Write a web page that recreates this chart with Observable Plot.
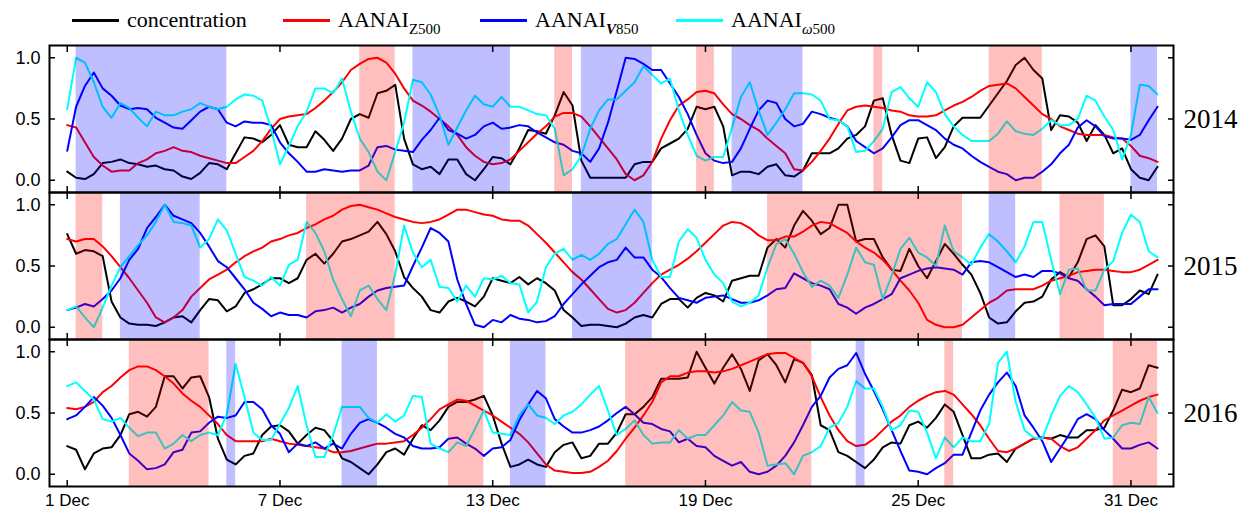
<!DOCTYPE html>
<html><head><meta charset="utf-8">
<script src="https://cdn.jsdelivr.net/npm/d3@7"></script>
<script src="https://cdn.jsdelivr.net/npm/@observablehq/plot@0.6"></script>
<style>
html,body{margin:0;padding:0;background:#fff;overflow:hidden;}
#legend{position:relative;height:40px;width:1245px;font-family:"Liberation Serif",serif;font-size:22px;color:#000;}
.item{position:absolute;top:7px;display:flex;align-items:center;white-space:nowrap;line-height:26px;}
.sw{display:inline-block;width:47px;height:3px;margin-right:8px;}
sub{font-size:15px;vertical-align:-7px;line-height:0;}
</style></head><body>
<div id="legend"></div>
<div id="chart"></div>
<script>
// ---- data (6-hourly, starting 1 Dec 00:00) ----
const years = ["2014", "2015", "2016"];
const STEP = 0.25; // days per sample
const tickDays = [0, 6, 12, 18, 24, 30];
const tickLabels = ["1 Dec", "7 Dec", "13 Dec", "19 Dec", "25 Dec", "31 Dec"];
const yTicks = [0, 0.5, 1];

const legendLabels = ["concentration", "AANAI<sub>Z500</sub>", "AANAI<sub><i><b>V</b></i>850</sub>", "AANAI<sub><i>ω</i>500</sub>"];
const seriesColors = ["#000000", "#ff0000", "#0000ff", "#00ffff"];
const legendLeft = [72, 283, 480, 676];

const conc2014 = [0.07,0.02,0.01,0.05,0.14,0.15,0.17,0.14,0.13,0.11,0.12,0.09,0.08,0.03,0.01,0.06,0.14,0.13,0.09,0.22,0.35,0.34,0.31,0.37,0.45,0.29,0.27,0.27,0.40,0.33,0.24,0.34,0.50,0.54,0.51,0.71,0.73,0.78,0.34,0.13,0.09,0.11,
0.05,0.17,0.17,0.05,0.00,0.09,0.19,0.18,0.13,0.26,0.41,0.40,0.38,0.53,0.72,0.61,0.16,0.02,0.02,0.02,0.02,0.02,0.13,0.15,0.15,0.26,0.30,0.34,0.42,0.60,0.58,0.60,0.44,0.04,0.07,0.07,0.05,0.11,0.13,0.04,0.03,0.08,0.22,
0.22,0.22,0.26,0.34,0.37,0.44,0.65,0.67,0.37,0.16,0.14,0.34,0.35,0.18,0.27,0.44,0.51,0.51,0.51,0.61,0.71,0.81,0.94,1.0,0.90,0.83,0.41,0.53,0.52,0.47,0.32,0.45,0.37,0.22,0.26,0.09,0.02,0.00,0.11];
const z2014 = [0.45,0.43,0.31,0.19,0.12,0.07,0.08,0.08,0.14,0.17,0.22,0.24,0.27,0.24,0.23,0.20,0.18,0.16,0.14,0.14,0.19,0.24,0.32,0.42,0.50,0.52,0.53,0.54,0.59,0.65,0.72,0.80,0.90,0.95,0.99,1.0,0.96,0.87,0.75,0.65,0.61,0.56,
0.50,0.44,0.37,0.27,0.20,0.15,0.13,0.14,0.17,0.24,0.31,0.38,0.44,0.52,0.55,0.55,0.52,0.44,0.35,0.26,0.17,0.05,0.00,0.04,0.15,0.34,0.49,0.61,0.66,0.72,0.73,0.71,0.62,0.54,0.50,0.45,0.41,0.34,0.28,0.22,0.09,0.08,0.15,
0.24,0.34,0.46,0.57,0.60,0.61,0.60,0.59,0.57,0.56,0.53,0.52,0.52,0.53,0.57,0.61,0.64,0.68,0.73,0.77,0.78,0.79,0.75,0.68,0.61,0.54,0.50,0.44,0.41,0.38,0.37,0.37,0.37,0.35,0.34,0.28,0.20,0.18,0.15];
const v2014 = [0.24,0.60,0.77,0.88,0.75,0.69,0.61,0.58,0.59,0.58,0.51,0.47,0.43,0.42,0.49,0.56,0.60,0.58,0.47,0.44,0.48,0.47,0.47,0.45,0.31,0.22,0.15,0.07,0.07,0.09,0.08,0.07,0.08,0.08,0.12,0.27,0.28,0.25,0.24,0.23,0.33,0.41,
0.51,0.41,0.38,0.34,0.37,0.44,0.47,0.42,0.43,0.45,0.44,0.39,0.35,0.31,0.29,0.24,0.22,0.15,0.26,0.47,0.73,1.0,0.99,0.95,0.90,0.90,0.79,0.68,0.54,0.37,0.22,0.16,0.14,0.15,0.26,0.42,0.57,0.65,0.63,0.50,0.44,0.46,0.56,
0.54,0.51,0.49,0.44,0.32,0.27,0.22,0.26,0.35,0.45,0.49,0.49,0.45,0.41,0.34,0.29,0.26,0.20,0.15,0.11,0.07,0.05,0.00,0.02,0.02,0.07,0.13,0.22,0.29,0.43,0.49,0.44,0.36,0.34,0.34,0.33,0.37,0.49,0.60];
const w2014 = [0.58,1.0,0.96,0.80,0.60,0.51,0.63,0.59,0.51,0.44,0.56,0.53,0.53,0.56,0.58,0.63,0.60,0.58,0.60,0.66,0.70,0.69,0.65,0.42,0.13,0.28,0.44,0.56,0.75,0.75,0.71,0.83,0.56,0.34,0.23,0.07,0.00,0.23,0.47,0.82,0.80,0.70,
0.53,0.29,0.43,0.57,0.69,0.62,0.60,0.68,0.60,0.60,0.57,0.54,0.53,0.42,0.04,0.09,0.20,0.42,0.57,0.66,0.66,0.73,0.80,0.93,0.86,0.79,0.83,0.57,0.37,0.20,0.16,0.19,0.19,0.43,0.68,0.80,0.57,0.37,0.47,0.58,0.71,0.71,0.70,
0.65,0.50,0.49,0.44,0.23,0.24,0.32,0.42,0.72,0.76,0.67,0.60,0.80,0.72,0.54,0.44,0.37,0.32,0.32,0.32,0.38,0.48,0.40,0.38,0.37,0.42,0.49,0.45,0.45,0.50,0.69,0.65,0.52,0.41,0.17,0.37,0.78,0.77,0.70];

const conc2015 = [0.76,0.60,0.63,0.62,0.58,0.21,0.08,0.03,0.02,0.02,0.01,0.04,0.08,0.09,0.04,0.14,0.23,0.22,0.13,0.17,0.28,0.31,0.35,0.40,0.40,0.36,0.40,0.55,0.60,0.52,0.60,0.70,0.72,0.75,0.78,0.86,0.76,0.62,0.41,0.32,0.25,0.14,
0.12,0.21,0.24,0.21,0.17,0.25,0.40,0.38,0.36,0.41,0.35,0.40,0.36,0.30,0.14,0.08,0.01,0.02,0.02,0.01,0.00,0.03,0.08,0.10,0.08,0.19,0.23,0.23,0.16,0.24,0.28,0.26,0.21,0.38,0.40,0.42,0.42,0.65,0.72,0.65,0.83,0.95,0.87,
0.76,0.81,1.0,1.0,0.70,0.72,0.72,0.57,0.47,0.46,0.64,0.50,0.40,0.54,0.68,0.60,0.51,0.43,0.28,0.08,0.03,0.04,0.13,0.20,0.21,0.25,0.39,0.45,0.41,0.53,0.72,0.75,0.66,0.18,0.18,0.23,0.30,0.27,0.43];
const z2015 = [0.72,0.70,0.72,0.72,0.66,0.58,0.49,0.40,0.30,0.20,0.08,0.04,0.08,0.14,0.25,0.32,0.39,0.43,0.47,0.53,0.58,0.62,0.65,0.70,0.72,0.75,0.77,0.81,0.84,0.88,0.91,0.96,0.99,1.0,0.98,0.96,0.93,0.90,0.88,0.86,0.85,0.86,
0.88,0.92,0.96,0.96,0.94,0.92,0.91,0.88,0.87,0.87,0.83,0.76,0.69,0.61,0.53,0.45,0.39,0.31,0.23,0.15,0.12,0.14,0.20,0.28,0.36,0.43,0.47,0.51,0.56,0.62,0.69,0.76,0.83,0.86,0.85,0.81,0.75,0.71,0.71,0.74,0.74,0.78,0.83,
0.86,0.85,0.81,0.77,0.70,0.65,0.61,0.55,0.47,0.38,0.30,0.20,0.06,0.02,0.00,0.00,0.02,0.08,0.14,0.20,0.24,0.30,0.31,0.31,0.31,0.34,0.38,0.40,0.42,0.45,0.46,0.47,0.47,0.46,0.45,0.45,0.47,0.51,0.55];
const v2015 = [0.14,0.16,0.19,0.17,0.23,0.30,0.40,0.55,0.64,0.81,0.90,1.0,0.91,0.88,0.85,0.77,0.66,0.54,0.49,0.40,0.31,0.20,0.15,0.09,0.12,0.10,0.10,0.08,0.13,0.14,0.16,0.12,0.16,0.19,0.25,0.30,0.32,0.33,0.34,0.50,0.65,0.81,
0.77,0.70,0.39,0.19,0.02,0.00,0.06,0.04,0.10,0.07,0.06,0.04,0.05,0.09,0.19,0.27,0.35,0.42,0.49,0.53,0.55,0.65,0.57,0.57,0.47,0.41,0.32,0.24,0.22,0.20,0.24,0.25,0.26,0.23,0.20,0.20,0.22,0.26,0.31,0.32,0.44,0.40,0.36,
0.34,0.31,0.19,0.16,0.11,0.16,0.19,0.23,0.27,0.40,0.43,0.46,0.48,0.49,0.48,0.47,0.43,0.53,0.54,0.53,0.49,0.45,0.41,0.43,0.41,0.46,0.46,0.44,0.40,0.38,0.31,0.25,0.18,0.19,0.19,0.19,0.25,0.31,0.31];
const w2015 = [0.14,0.17,0.08,0.00,0.16,0.34,0.49,0.58,0.67,0.75,0.86,1.0,0.86,0.85,0.83,0.65,0.72,0.88,0.79,0.60,0.41,0.38,0.34,0.41,0.34,0.51,0.55,0.86,0.77,0.62,0.39,0.23,0.09,0.30,0.34,0.23,0.14,0.43,0.83,0.61,0.49,0.55,
0.33,0.32,0.21,0.34,0.25,0.40,0.39,0.42,0.36,0.35,0.12,0.21,0.49,0.60,0.64,0.55,0.59,0.55,0.60,0.68,0.72,0.84,0.96,0.86,0.55,0.41,0.41,0.70,0.80,0.73,0.55,0.43,0.36,0.21,0.17,0.20,0.26,0.49,0.68,0.72,0.60,0.45,0.33,
0.38,0.34,0.24,0.43,0.65,0.53,0.51,0.23,0.42,0.64,0.73,0.61,0.57,0.50,0.83,0.62,0.57,0.51,0.65,0.76,0.70,0.62,0.53,0.66,0.86,0.86,0.55,0.27,0.47,0.48,0.30,0.30,0.47,0.54,0.77,0.92,0.86,0.62,0.57];

const conc2016 = [0.23,0.20,0.04,0.17,0.21,0.22,0.32,0.49,0.51,0.47,0.55,0.80,0.80,0.70,0.79,0.80,0.63,0.29,0.12,0.08,0.15,0.17,0.32,0.39,0.40,0.35,0.25,0.32,0.38,0.36,0.27,0.13,0.10,0.05,0.00,0.08,0.18,0.21,0.16,0.29,0.40,0.36,
0.44,0.55,0.59,0.59,0.61,0.64,0.48,0.25,0.06,0.08,0.12,0.08,0.06,0.18,0.24,0.26,0.13,0.15,0.25,0.25,0.34,0.49,0.49,0.55,0.63,0.78,0.78,0.78,0.79,1.0,0.87,0.74,0.87,0.98,0.86,0.68,0.93,0.98,0.89,0.75,0.94,0.91,0.81,
0.40,0.36,0.18,0.15,0.10,0.05,0.12,0.22,0.26,0.25,0.40,0.43,0.38,0.46,0.57,0.51,0.32,0.13,0.13,0.16,0.17,0.10,0.21,0.25,0.29,0.30,0.29,0.32,0.30,0.30,0.36,0.36,0.38,0.52,0.69,0.67,0.70,0.89,0.87];
const z2016 = [0.54,0.53,0.55,0.59,0.67,0.72,0.79,0.85,0.88,0.88,0.85,0.80,0.74,0.66,0.60,0.55,0.48,0.41,0.32,0.27,0.27,0.27,0.27,0.29,0.27,0.25,0.24,0.23,0.22,0.21,0.18,0.18,0.19,0.21,0.23,0.25,0.25,0.26,0.27,0.32,0.38,0.45,
0.53,0.57,0.61,0.60,0.56,0.52,0.48,0.43,0.38,0.33,0.26,0.17,0.08,0.03,0.02,0.01,0.01,0.02,0.06,0.11,0.19,0.29,0.38,0.48,0.59,0.75,0.80,0.80,0.83,0.84,0.84,0.83,0.84,0.86,0.89,0.92,0.95,0.98,0.99,0.99,0.95,0.91,0.80,
0.63,0.48,0.36,0.27,0.23,0.24,0.29,0.36,0.43,0.48,0.55,0.60,0.64,0.67,0.68,0.65,0.57,0.49,0.40,0.29,0.19,0.18,0.21,0.25,0.29,0.30,0.29,0.23,0.19,0.22,0.29,0.36,0.44,0.48,0.52,0.56,0.60,0.63,0.65];
const v2016 = [0.45,0.48,0.55,0.63,0.56,0.46,0.32,0.17,0.11,0.04,0.05,0.08,0.18,0.20,0.34,0.35,0.42,0.47,0.46,0.48,0.59,0.59,0.53,0.40,0.33,0.18,0.25,0.23,0.26,0.21,0.25,0.21,0.33,0.42,0.45,0.42,0.38,0.33,0.30,0.23,0.21,0.21,
0.22,0.29,0.30,0.25,0.21,0.15,0.21,0.22,0.28,0.44,0.57,0.68,0.62,0.45,0.39,0.34,0.34,0.36,0.39,0.44,0.50,0.55,0.49,0.42,0.41,0.37,0.35,0.26,0.29,0.23,0.22,0.15,0.11,0.07,0.10,0.02,0.00,0.02,0.07,0.15,0.26,0.40,0.55,
0.64,0.79,0.86,0.89,0.99,0.82,0.68,0.53,0.36,0.19,0.03,0.02,0.00,0.05,0.09,0.16,0.16,0.34,0.52,0.65,0.75,0.83,0.72,0.48,0.38,0.27,0.10,0.21,0.32,0.45,0.49,0.45,0.36,0.29,0.21,0.21,0.24,0.26,0.21];
const w2016 = [0.72,0.75,0.68,0.61,0.45,0.43,0.46,0.38,0.31,0.34,0.34,0.21,0.25,0.32,0.27,0.32,0.34,0.32,0.49,0.90,0.63,0.34,0.28,0.28,0.41,0.54,0.72,0.40,0.14,0.14,0.32,0.55,0.55,0.55,0.46,0.42,0.49,0.43,0.48,0.64,0.63,0.25,
0.21,0.18,0.26,0.23,0.37,0.52,0.34,0.33,0.32,0.48,0.57,0.48,0.46,0.41,0.48,0.51,0.57,0.65,0.72,0.52,0.32,0.37,0.44,0.32,0.25,0.26,0.26,0.36,0.29,0.32,0.32,0.40,0.48,0.59,0.52,0.51,0.34,0.07,0.08,0.09,0.00,0.15,0.18,
0.23,0.38,0.42,0.55,0.76,0.70,0.70,0.55,0.36,0.40,0.52,0.51,0.34,0.13,0.30,0.22,0.30,0.27,0.27,0.41,0.91,1.0,0.59,0.36,0.30,0.29,0.48,0.64,0.72,0.67,0.57,0.46,0.29,0.30,0.40,0.42,0.41,0.63,0.50];

// shaded episodes: [type, start day, end day]  (Z = red, V = blue)
const shade2014 = [["V",0.25,4.5],["Z",8.25,9.25],["V",9.75,12.5],["Z",13.75,14.25],["V",14.5,16.5],["Z",17.75,18.25],["V",18.75,20.75],["Z",22.75,23.0],["Z",26,27.5],["V",30,30.75]];
const shade2015 = [["Z",0.25,1.0],["V",1.5,3.75],["Z",6.75,9.25],["V",14.25,16.5],["Z",19.75,25.25],["V",26,26.75],["Z",28,29.25]];
const shade2016 = [["Z",1.75,4.0],["V",4.5,4.75],["V",7.75,8.75],["Z",10.75,11.75],["V",12.5,13.5],["Z",15.75,21.0],["V",22.25,22.5],["Z",24.75,25.0],["Z",29.5,30.75]];

// ---- build tables ----
const seriesByYear = [
  {"2014": conc2014, "2015": conc2015, "2016": conc2016},
  {"2014": z2014, "2015": z2015, "2016": z2016},
  {"2014": v2014, "2015": v2015, "2016": v2016},
  {"2014": w2014, "2015": w2015, "2016": w2016}
];
const seriesRows = seriesByYear.map(byYear =>
  years.flatMap(y => byYear[y].map((v, i) => ({t: i * STEP, v, year: y}))));
const shadeRows = [[shade2014, "2014"], [shade2015, "2015"], [shade2016, "2016"]]
  .flatMap(([arr, y]) => arr.map(([type, s, e]) => ({type, s, e, year: y})));

// ---- legend ----
const legend = document.getElementById("legend");
legendLabels.forEach((lab, i) => {
  const it = document.createElement("div");
  it.className = "item";
  it.style.left = legendLeft[i] + "px";
  it.innerHTML = `<span class="sw" style="background:${seriesColors[i]}"></span><span>${lab}</span>`;
  legend.appendChild(it);
});

// ---- chart ----
const lineMarks = seriesRows.map((rows, i) =>
  Plot.line(rows, {x: "t", y: "v", fy: "year", stroke: seriesColors[i], strokeWidth: 2, curve: "linear"}));

const chart = Plot.plot({
  width: 1245,
  height: 470,
  marginLeft: 49,
  marginRight: 72,
  marginTop: 5,
  marginBottom: 24,
  style: {fontFamily: "'Liberation Sans', Arial, sans-serif", fontSize: "17px", background: "#fff", overflow: "visible"},
  x: {domain: [-0.5, 31.2], label: null},
  y: {domain: [-0.1, 1.1], label: null},
  fy: {domain: years, padding: 0, label: null},
  marks: [
    ...lineMarks,
    Plot.rect(shadeRows, {x1: "s", x2: "e", fy: "year", fill: d => d.type === "Z" ? "#ff0000" : "#0000ff", fillOpacity: 0.25}),
    Plot.frame({stroke: "#000", strokeWidth: 2}),
    Plot.axisX({anchor: "bottom", ticks: tickDays, tickSize: -6, tickFormat: () => "", strokeWidth: 1.5, facetAnchor: null, label: null}),
    Plot.axisX({anchor: "top", ticks: tickDays, tickSize: -6, tickFormat: () => "", strokeWidth: 1.5, facetAnchor: null, label: null}),
    Plot.axisX({anchor: "bottom", ticks: tickDays, tickSize: 0, tickPadding: 7, tickFormat: d => tickLabels[tickDays.indexOf(d)], fontSize: 17, label: null}),
    Plot.axisY({anchor: "left", ticks: yTicks, tickSize: -6, tickPadding: 15, tickFormat: d3.format(".1f"), strokeWidth: 1.5, fontSize: 18, label: null}),
    Plot.axisY({anchor: "right", ticks: yTicks, tickSize: -6, tickFormat: () => "", strokeWidth: 1.5, label: null}),
    Plot.axisFy({anchor: "right", tickSize: 0, tickPadding: 10, fontSize: 27, fontFamily: "'Liberation Serif', serif", label: null})
  ]
});
document.getElementById("chart").appendChild(chart);
</script>
</body></html>
